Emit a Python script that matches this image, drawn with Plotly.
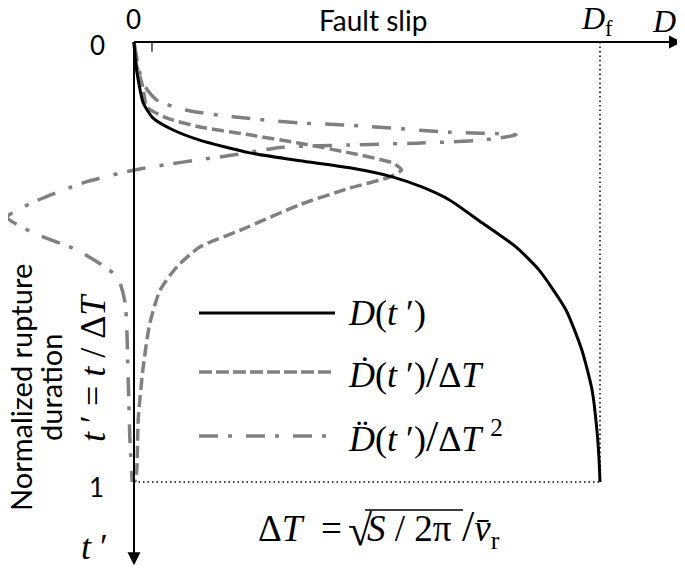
import plotly.graph_objects as go

W, H = 685, 569
OFF = 8  # page body margin around the plot div

# normalized rupture duration t' and the three curves
t_slip = [0, 0.05, 0.086, 0.139, 0.173, 0.200, 0.223, 0.252, 0.270, 0.286, 0.307,
          0.330, 0.359, 0.411, 0.466, 0.518, 0.609, 0.700, 0.791, 0.889, 0.950, 1.0]
slip = [0, 0.004, 0.009, 0.020, 0.041, 0.084, 0.141, 0.249, 0.356, 0.463, 0.556,
        0.619, 0.677, 0.747, 0.820, 0.869, 0.927, 0.961, 0.983, 0.994, 0.998, 1.0]

t_rate = [0, 0.05, 0.102, 0.148, 0.173, 0.193, 0.211, 0.230, 0.252, 0.275, 0.291,
          0.307, 0.332, 0.370, 0.427, 0.466, 0.511, 0.564, 0.639, 0.745, 0.859, 0.973, 1.0]
rate = [0, 0.005, 0.019, 0.028, 0.071, 0.141, 0.248, 0.355, 0.463, 0.555, 0.574,
        0.548, 0.463, 0.355, 0.230, 0.141, 0.092, 0.056, 0.034, 0.019, 0.009, 0.006, 0.002]

t_acc = [0, 0.093, 0.132, 0.155, 0.170, 0.184, 0.189, 0.205, 0.211, 0.223, 0.230,
         0.234, 0.239, 0.257, 0.273, 0.291, 0.320, 0.364, 0.398, 0.434, 0.473, 0.534,
         0.593, 0.745, 0.898, 1.0]
acc = [0, 0.019, 0.049, 0.113, 0.212, 0.355, 0.463, 0.677, 0.820, 0.747, 0.606,
       0.463, 0.319, 0.212, 0.105, 0.0, -0.109, -0.216, -0.272, -0.216, -0.122, -0.036,
       -0.019, -0.013, -0.009, -0.004]

GRAY = '#808080'
SERIF = 'Liberation Serif'
SANS = 'Lato'
DASH = '12px,5px'
DASHDOT = '19px,10px,4px,14px'
SLASH = '<span style="font-size:44px">/</span>'


def px(x):
    return (x - OFF) / W


def py(y):
    return 1 - (y - OFF) / H


fig = go.Figure()
fig.add_trace(go.Scatter(x=acc, y=t_acc, mode='lines', line_shape='spline',
                         line=dict(color=GRAY, width=3.5, dash=DASHDOT, smoothing=0.6)))
fig.add_trace(go.Scatter(x=rate, y=t_rate, mode='lines', line_shape='spline',
                         line=dict(color=GRAY, width=3.5, dash=DASH, smoothing=0.6)))
fig.add_trace(go.Scatter(x=slip, y=t_slip, mode='lines', line_shape='spline',
                         line=dict(color='black', width=3, smoothing=0.6)))

# dotted guides at D = Df and t' = 1
fig.add_shape(type='line', x0=1, x1=1, y0=0, y1=1, line=dict(color='black', width=1.5, dash='1.5px,3px'))
fig.add_shape(type='line', x0=0, x1=1, y0=1, y1=1, line=dict(color='black', width=1.5, dash='1.5px,3px'))
# small tick on the slip axis
fig.add_shape(type='line', x0=0.0386, x1=0.0386, y0=0, y1=0.022, line=dict(color='black', width=1.2))

# axes with arrowheads
fig.add_shape(type='line', x0=0, x1=1.16, y0=0, y1=0, line=dict(color='black', width=2))
fig.add_shape(type='line', x0=0, x1=0, y0=0, y1=1.17, line=dict(color='black', width=2))
fig.add_annotation(x=1.176, y=0, ax=-14, ay=0, text='', showarrow=True, arrowhead=2,
                   arrowsize=1.3, arrowwidth=2, arrowcolor='black')
fig.add_annotation(x=0, y=1.189, ax=0, ay=-14, text='', showarrow=True, arrowhead=2,
                   arrowsize=1.3, arrowwidth=2, arrowcolor='black')

# legend
leg = [(313, dict(color='black', width=3), '<i>D</i>(<i>t</i> ′)'),
       (372, dict(color=GRAY, width=3.5, dash='13px,4px'), '<i>Ḋ</i>(<i>t</i> ′)' + SLASH + 'Δ<i>T</i>'),
       (436, dict(color=GRAY, width=3.5, dash=DASHDOT), '<i>D̈</i>(<i>t</i> ′)' + SLASH + 'Δ<i>T</i> <sup>2</sup>')]
for y, ln, label in leg:
    fig.add_shape(type='line', xref='paper', yref='paper', x0=px(199), x1=px(335),
                  y0=py(y), y1=py(y), line=ln)
    fig.add_annotation(x=px(346), y=py(y), xref='paper', yref='paper', text=label,
                       xanchor='left', yanchor='middle', showarrow=False,
                       font=dict(family=SERIF, size=36, color='black'))

texts = [
    (133, 19, '0', SANS, 26, 0),
    (97, 45, '0', SANS, 26, 0),
    (96, 487, '1', SANS, 26, 0),
    (373, 20, 'Fault slip', SANS, 28, 0),
    (597, 21, '<i>D</i><sub>f</sub>', SERIF, 32, 0),
    (664, 21, '<i>D</i>', SERIF, 32, 0),
    (94, 547, '<i>t</i> ′', SERIF, 36, 0),
    (93, 368, '<i>t</i> ′ = <i>t</i> / Δ<i>T</i>', SERIF, 36, -90),
    (20, 388, 'Normalized rupture', SANS, 29, -90),
    (50, 388, 'duration', SANS, 29, -90),
]
for x, y, s, fam, size, ang in texts:
    fig.add_annotation(x=px(x), y=py(y), xref='paper', yref='paper', text=s, showarrow=False,
                       xanchor='center', yanchor='middle', textangle=ang,
                       font=dict(family=fam, size=size, color='black'))

# rupture-duration formula, built from left-anchored pieces
formula = [
    (256, 528, 'Δ<i>T</i>  =', 37),
    (346, 530, '√', 44),
    (365, 528, '<i>S</i> / 2π', 37),
    (460, 528, SLASH + '<i>v̄</i><sub>r</sub>', 37),
]
for x, y, s, size in formula:
    fig.add_annotation(x=px(x), y=py(y), xref='paper', yref='paper', text=s, showarrow=False,
                       xanchor='left', yanchor='middle',
                       font=dict(family=SERIF, size=size, color='black'))
fig.add_shape(type='line', xref='paper', yref='paper', x0=px(365), x1=px(463),
              y0=py(510), y1=py(510), line=dict(color='black', width=1.5))

fig.update_layout(
    width=W, height=H, autosize=False, showlegend=False,
    margin=dict(l=0, r=0, t=0, b=0),
    plot_bgcolor='white', paper_bgcolor='white',
    xaxis=dict(range=[(OFF - 134) / 466, (W + OFF - 134) / 466], visible=False),
    yaxis=dict(range=[(H + OFF - 42) / 440, (OFF - 42) / 440], visible=False),
)

fig.write_html('out.html')
